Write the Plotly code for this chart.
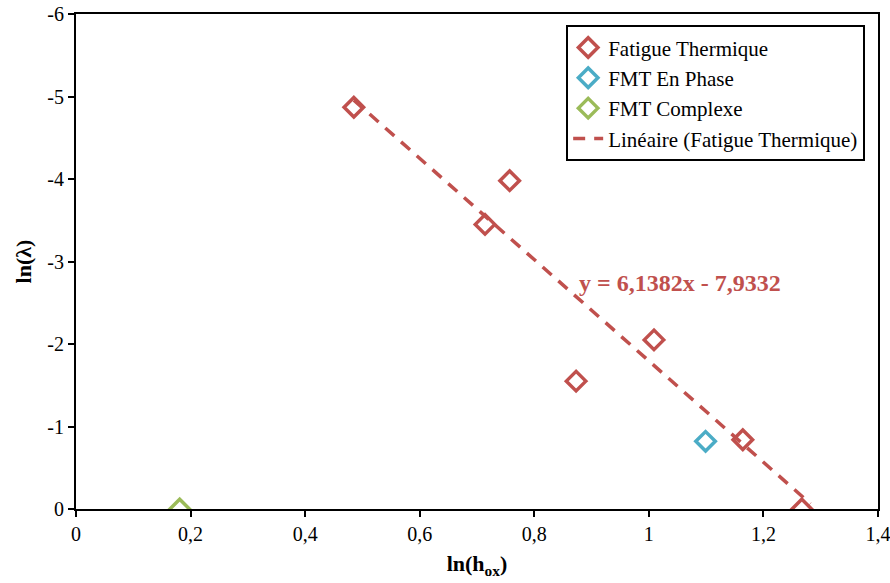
import numpy as np
import plotly.graph_objects as go

# Data
ft_x = [0.485, 0.757, 0.714, 0.873, 1.009, 1.164, 1.267]
ft_y = [-4.87, -3.98, -3.45, -1.55, -2.05, -0.84, 0.0]
ph_x = [1.099]
ph_y = [-0.82]
cx_x = [0.181]
cx_y = [0.0]
trend_slope = 6.1382
trend_intercept = -7.9332
x_ticks = [0, 0.2, 0.4, 0.6, 0.8, 1.0, 1.2, 1.4]
x_tick_labels = ["0", "0,2", "0,4", "0,6", "0,8", "1", "1,2", "1,4"]
y_ticks = [0, -1, -2, -3, -4, -5, -6]
y_tick_labels = ["0", "-1", "-2", "-3", "-4", "-5", "-6"]

RED = "#C0504D"
BLUE = "#4BACC6"
GREEN = "#9BBB59"
FONT = "Liberation Serif"

tx = np.linspace(min(ft_x), max(ft_x) + 0.015, 50)
ty = trend_slope * tx + trend_intercept

fig = go.Figure()
mk = dict(symbol="diamond-open", size=15, line=dict(width=3.5))
fig.add_trace(go.Scatter(x=ft_x, y=ft_y, mode="markers", name="Fatigue Thermique",
                         marker=dict(**mk, color=RED)))
fig.add_trace(go.Scatter(x=ph_x, y=ph_y, mode="markers", name="FMT En Phase",
                         marker=dict(**mk, color=BLUE)))
fig.add_trace(go.Scatter(x=cx_x, y=cx_y, mode="markers", name="FMT Complexe",
                         marker=dict(**mk, color=GREEN)))
fig.add_trace(go.Scatter(x=tx, y=ty, mode="lines", name="Linéaire (Fatigue Thermique)",
                         line=dict(color=RED, width=3.5, dash="12px,9px")))

fig.add_annotation(x=0.874, y=-2.74, xref="x", yref="y", showarrow=False,
                   text="<b>y = 6,1382x - 7,9332</b>", xanchor="left", yanchor="middle",
                   font=dict(family=FONT, size=24, color=RED))

axis_common = dict(showgrid=False, zeroline=False, showline=True, linecolor="black",
                   linewidth=2, mirror=True, ticks="outside", ticklen=6, tickwidth=2,
                   tickcolor="black", automargin=False, ticklabeloverflow="allow",
                   tickfont=dict(family=FONT, size=20, color="black"))

fig.update_layout(
    width=890, height=583,
    margin=dict(l=76, r=12, t=14, b=74),
    paper_bgcolor="white", plot_bgcolor="white",
    font=dict(family=FONT, color="black"),
    xaxis=dict(**axis_common, range=[0, 1.4], tickvals=x_ticks, ticktext=x_tick_labels,
               title=dict(text="<b>ln(h<sub>ox</sub>)</b>", font=dict(family=FONT, size=22),
                          standoff=12)),
    yaxis=dict(**axis_common, range=[0, -6], tickvals=y_ticks, ticktext=y_tick_labels,
               title=dict(text="<b>ln(λ)</b>", font=dict(family=FONT, size=22), standoff=10)),
    legend=dict(x=0.984, y=0.977, xanchor="right", yanchor="top", bgcolor="white",
                bordercolor="black", borderwidth=2, font=dict(family=FONT, size=21),
                tracegroupgap=0, itemwidth=30),
    showlegend=True,
)

fig.write_html("out.html", config={"displayModeBar": False},
               post_script="document.body.style.margin='0';")
